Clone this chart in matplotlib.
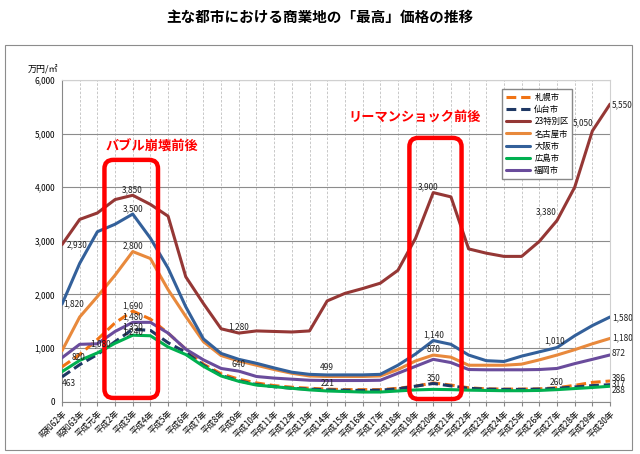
import matplotlib
matplotlib.use("Agg")
import matplotlib.pyplot as plt
from matplotlib.patches import FancyBboxPatch, Rectangle

plt.rcParams['font.family'] = ['Noto Sans CJK JP', 'DejaVu Sans']

YEARS = ["昭和62年", "昭和63年", "平成元年"] + [f"平成{n}年" for n in range(2, 31)]

SAPPORO = [650, 880, 1160, 1470, 1690, 1540, 1280, 980, 700, 520, 420, 350, 300, 270, 250, 235,
           225, 225, 225, 250, 290, 350, 310, 260, 240, 235, 235, 240, 260, 305, 360, 386]
SENDAI = [463, 690, 880, 1120, 1350, 1330, 1100, 920, 680, 490, 390, 320, 280, 250, 235, 221,
          215, 210, 215, 240, 290, 340, 295, 250, 235, 230, 230, 235, 250, 275, 300, 317]
TOKYO23 = [2930, 3400, 3520, 3770, 3850, 3680, 3460, 2330, 1830, 1360, 1280, 1320, 1310, 1300, 1320, 1880,
           2020, 2110, 2210, 2450, 3050, 3900, 3820, 2850, 2770, 2710, 2710, 2990, 3380, 4000, 5050, 5550]
NAGOYA = [950, 1580, 1960, 2360, 2800, 2670, 2090, 1590, 1120, 860, 760, 680, 600, 530, 480, 470,
          470, 470, 480, 600, 760, 870, 830, 680, 680, 680, 700, 780, 870, 970, 1080, 1180]
OSAKA = [1820, 2580, 3170, 3310, 3500, 3050, 2490, 1770, 1170, 900, 790, 716, 630, 550, 510, 499,
         500, 500, 510, 680, 890, 1140, 1070, 870, 765, 750, 850, 930, 1010, 1230, 1420, 1580]
HIROSHIMA = [560, 770, 910, 1090, 1240, 1230, 1020, 880, 660, 480, 380, 310, 280, 250, 220, 200,
             190, 180, 180, 200, 220, 230, 225, 215, 210, 205, 205, 210, 225, 245, 265, 288]
FUKUOKA = [820, 1070, 1080, 1310, 1480, 1480, 1280, 980, 780, 620, 570, 470, 440, 420, 400, 395,
           395, 395, 400, 530, 660, 790, 730, 600, 595, 595, 595, 600, 620, 710, 790, 872]

SERIES = [
    ("札幌市", SAPPORO, "#F07314", True),
    ("仙台市", SENDAI, "#1F3864", True),
    ("23特別区", TOKYO23, "#953735", False),
    ("名古屋市", NAGOYA, "#E8893C", False),
    ("大阪市", OSAKA, "#33609A", False),
    ("広島市", HIROSHIMA, "#00B050", False),
    ("福岡市", FUKUOKA, "#6A4C9C", False),
]
DATA = {name: vals for name, vals, _, _ in SERIES}

# (series, index, text, dx px, dy px, ha, va)
LABELS = [
    ("23特別区", 0, "2,930", 5, 0, "left", "center"),
    ("23特別区", 4, "3,850", -1, 1, "center", "bottom"),
    ("23特別区", 10, "1,280", 0, 2, "center", "bottom"),
    ("23特別区", 21, "3,900", -5, 1, "center", "bottom"),
    ("23特別区", 28, "3,380", 0, 9, "right", "center"),
    ("23特別区", 30, "5,050", 1, 8, "right", "center"),
    ("23特別区", 31, "5,550", 2, -1, "left", "center"),
    ("大阪市", 0, "1,820", 1, 0, "left", "center"),
    ("大阪市", 4, "3,500", 0, 1, "center", "bottom"),
    ("大阪市", 15, "499", 0, 3, "center", "bottom"),
    ("大阪市", 21, "1,140", 0, 1, "center", "bottom"),
    ("大阪市", 28, "1,010", -2, 2, "center", "bottom"),
    ("大阪市", 31, "1,580", 2, -1, "left", "center"),
    ("名古屋市", 4, "2,800", 0, 1, "center", "bottom"),
    ("名古屋市", 21, "870", 0, 1, "center", "bottom"),
    ("名古屋市", 31, "1,180", 2, 1, "left", "center"),
    ("札幌市", 4, "1,690", 0, 1, "center", "bottom"),
    ("札幌市", 21, "350", 0, 0, "center", "bottom"),
    ("札幌市", 28, "260", 0, 1, "center", "bottom"),
    ("札幌市", 31, "386", 2, 3, "left", "center"),
    ("仙台市", 0, "463", 0, -2, "left", "top"),
    ("仙台市", 4, "1,350", 0, -2, "center", "bottom"),
    ("仙台市", 15, "221", 0, 2, "center", "bottom"),
    ("仙台市", 31, "317", 2, 0, "left", "center"),
    ("広島市", 4, "1,240", 0, -1, "center", "bottom"),
    ("広島市", 31, "288", 2, -4, "left", "center"),
    ("福岡市", 0, "820", 10, 0, "left", "center"),
    ("福岡市", 2, "1,080", 3, 0, "center", "center"),
    ("福岡市", 4, "1,480", 0, 1, "center", "bottom"),
    ("福岡市", 10, "640", 0, 2, "center", "bottom"),
    ("福岡市", 31, "872", 2, 1, "left", "center"),
]

# highlight boxes: (x0, x1) in category index, (y0, y1) in value, caption and its centre
BOXES = [
    ((2.4, 5.43), (70, 4510), "バブル崩壊前後", (5.1, 4750)),
    ((19.65, 22.6), (50, 4920), "リーマンショック前後", (19.95, 5310)),
]

fig = plt.figure(figsize=(6.4, 4.54), dpi=100)
ax = fig.add_axes([0.0969, 0.1152, 0.8563, 0.7086])

fig.patches.append(Rectangle((0.008, 0.009), 0.98, 0.892, transform=fig.transFigure,
                             fill=False, edgecolor="#8c8c8c", lw=0.8))
fig.text(0.5, 0.962, "主な都市における商業地の「最高」価格の推移", ha="center", va="center",
         fontsize=10.5, fontweight="bold")

x = list(range(len(YEARS)))
for name, vals, color, dashed in SERIES:
    ax.plot(x, vals, color=color, lw=2.2, ls=(0, (3.2, 1.6)) if dashed else "-",
            label=name, solid_capstyle="round", zorder=3)

for name, i, txt, dx, dy, ha, va in LABELS:
    ax.annotate(txt, (i, DATA[name][i]), xytext=(dx, dy), textcoords="offset pixels",
                ha=ha, va=va, fontsize=6, color="#222222", zorder=7)

asp = (548 / 31) / (321.7 / 6000)
for (x0, x1), (y0, y1), cap, (tx, ty) in BOXES:
    ax.add_patch(FancyBboxPatch((x0, y0), x1 - x0, y1 - y0,
                                boxstyle="round,pad=0,rounding_size=0.5",
                                mutation_aspect=asp, fill=False, edgecolor="#FF0000",
                                lw=3.2, zorder=6, clip_on=False))
    ax.text(tx, ty, cap, color="#FF0000", fontsize=9.5, fontweight="bold",
            ha="center", va="center", zorder=6)

ax.set_xlim(0, len(YEARS) - 1)
ax.set_ylim(0, 6000)
ax.set_yticks(range(0, 6001, 1000))
ax.set_yticklabels([f"{v:,}" for v in range(0, 6001, 1000)], fontsize=6)
ax.set_xticks(x)
ax.set_xticklabels(YEARS, rotation=45, ha="right", rotation_mode="anchor", fontsize=6)
ax.tick_params(axis="x", length=3, color="#888888", pad=2)
ax.tick_params(axis="y", length=0, pad=5)
ax.grid(axis="y", color="#8c8c8c", lw=0.8)
ax.grid(axis="x", color="#bfbfbf", lw=0.6, ls=(0, (3, 2)))
ax.set_axisbelow(True)
for s in ["left", "bottom"]:
    ax.spines[s].set_color("#888888")
for s in ["top", "right"]:
    ax.spines[s].set_color("#d0d0d0")
ax.text(-0.035, 1.032, "万円/㎡", transform=ax.transAxes, fontsize=6.5, ha="center", va="center")

leg = ax.legend(loc="upper left", bbox_to_anchor=(0.7956, 0.9845), fontsize=6, handlelength=2.9,
                handletextpad=0.5, labelspacing=0.38, borderpad=0.45, fancybox=False,
                edgecolor="#888888", framealpha=1)
leg.set_zorder(4)

fig.savefig("out.png", dpi=100)
